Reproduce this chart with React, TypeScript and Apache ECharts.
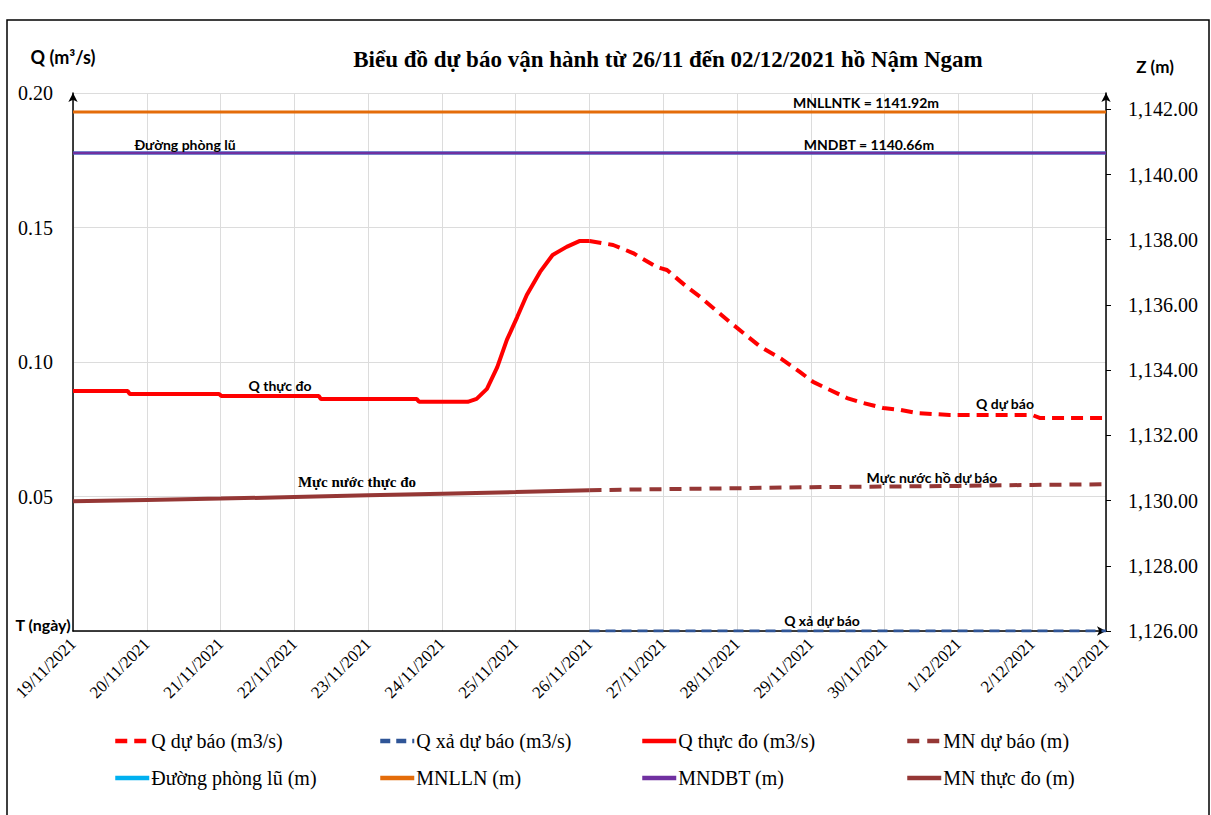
import React, { useEffect, useRef } from "react";
import * as echarts from "echarts";

const dates = [
  "19/11/2021", "20/11/2021", "21/11/2021", "22/11/2021", "23/11/2021",
  "24/11/2021", "25/11/2021", "26/11/2021", "27/11/2021", "28/11/2021",
  "29/11/2021", "30/11/2021", "1/12/2021", "2/12/2021", "3/12/2021",
];

// time in days since 19/11/2021 00:00
const qObsTime = [0, 0.74, 0.77, 1.98, 2.01, 3.33, 3.36, 4.66, 4.69, 5.35, 5.47, 5.61, 5.75, 5.88, 6.02, 6.15, 6.33, 6.5, 6.69, 6.87, 7.0];
const qObs = [0.0892, 0.0892, 0.0881, 0.0881, 0.0874, 0.0874, 0.0862, 0.0862, 0.0852, 0.0852, 0.0863, 0.09, 0.0981, 0.1082, 0.1167, 0.1249, 0.1335, 0.1398, 0.1428, 0.145, 0.145];

const qFcTime = [7.0, 7.32, 7.59, 7.91, 8.05, 8.32, 8.5, 8.9, 9.31, 9.6, 9.85, 10.03, 10.26, 10.49, 10.7, 10.98, 11.21, 11.44, 11.88, 13.0, 13.1, 14.0];
const qFc = [0.145, 0.1435, 0.1405, 0.1353, 0.1342, 0.1279, 0.1242, 0.1149, 0.1058, 0.1012, 0.0963, 0.0926, 0.0896, 0.0866, 0.0848, 0.0829, 0.0822, 0.081, 0.0803, 0.0803, 0.0792, 0.0792];

const qOutTime = [7, 14];
const qOut = [0, 0];

const mnObsTime = [0, 1, 2, 3, 4, 5, 6, 7];
const mnObs = [1129.98, 1130.02, 1130.06, 1130.11, 1130.16, 1130.21, 1130.26, 1130.32];

const mnFcTime = [7, 8, 9, 10, 11, 12, 13, 14];
const mnFc = [1130.32, 1130.35, 1130.38, 1130.41, 1130.43, 1130.45, 1130.48, 1130.5];

const levelTime = [0, 14];
const mnlln = [1141.92, 1141.92];
const mndbt = [1140.66, 1140.66];
const floodLine = [1140.66, 1140.66];

const pairs = (t: number[], v: number[]) => t.map((x, i) => [x, v[i]]);

const SERIF = "'Liberation Serif', 'Times New Roman', serif";
const SANS = "Lato, 'Open Sans', 'Liberation Sans', sans-serif";

export default function App() {
  const ref = useRef<HTMLDivElement>(null);
  useEffect(() => {
    if (!ref.current) return;
    const chart = echarts.init(ref.current, null, { renderer: "svg" });
    const line = (name: string, data: any[], color: string, width: number, type: any, yAxisIndex: number) => ({
      name,
      type: "line",
      data,
      yAxisIndex,
      showSymbol: false,
      symbol: "none",
      lineStyle: { color, width, type },
      itemStyle: { color },
      emphasis: { disabled: true },
    });
    const legendBase = {
      orient: "vertical",
      top: 731,
      padding: 0,
      itemWidth: 34,
      itemHeight: 12,
      itemGap: 17,
      itemStyle: { opacity: 0 },
      lineStyle: { width: 4.5 },
      textStyle: { fontFamily: SERIF, fontSize: 20, color: "#000", padding: [0, 0, 0, -3] },
      selectedMode: false,
    };
    const t = (text: string, x: number, y: number, font: string) => ({
      type: "text",
      style: { text, x, y, textAlign: "center", textVerticalAlign: "middle", font, fill: "#000" },
      z: 100,
    });
    chart.setOption({
      animation: false,
      grid: { left: 73, right: 105, top: 93, bottom: 184, containLabel: false },
      xAxis: {
        type: "value",
        min: 0,
        max: 14,
        interval: 1,
        axisLine: { show: true, lineStyle: { color: "#000", width: 1.5 }, symbol: ["none", "arrow"], symbolSize: [7, 9] },
        axisTick: { show: false },
        splitLine: { show: true, lineStyle: { color: "#dcdcdc", width: 1 } },
        axisLabel: {
          rotate: 45,
          margin: 10,
          fontFamily: SERIF,
          fontSize: 17,
          color: "#000",
          formatter: (v: number) => dates[Math.round(v)] ?? "",
        },
      },
      yAxis: [
        {
          type: "value",
          min: 0,
          max: 0.2,
          interval: 0.05,
          position: "left",
          axisLine: { show: true, lineStyle: { color: "#000", width: 1.5 }, symbol: ["none", "arrow"], symbolSize: [7, 9] },
          axisTick: { show: false },
          splitLine: { show: true, lineStyle: { color: "#dcdcdc", width: 1 } },
          axisLabel: {
            margin: 20,
            fontFamily: SERIF,
            fontSize: 20,
            color: "#000",
            formatter: (v: number) => (v < 1e-9 ? "" : v.toFixed(2)),
          },
        },
        {
          type: "value",
          min: 1126,
          max: 1142.5,
          interval: 2,
          position: "right",
          axisLine: { show: true, lineStyle: { color: "#000", width: 1.5 }, symbol: ["none", "arrow"], symbolSize: [7, 9] },
          axisTick: { show: true, inside: false, length: 5, lineStyle: { color: "#000" } },
          splitLine: { show: false },
          axisLabel: {
            margin: 22,
            fontFamily: SERIF,
            fontSize: 20,
            color: "#000",
            showMaxLabel: false,
            formatter: (v: number) =>
              Math.abs(v % 2) > 1e-6 ? "" : v.toLocaleString("en-US", { minimumFractionDigits: 2, maximumFractionDigits: 2 }),
          },
        },
      ],
      legend: [
        { ...legendBase, left: 113, data: ["Q dự báo (m3/s)", "Đường phòng lũ (m)"] },
        { ...legendBase, left: 378, data: ["Q xả dự báo (m3/s)", "MNLLN (m)"] },
        { ...legendBase, left: 640, data: ["Q thực đo (m3/s)", "MNDBT (m)"] },
        { ...legendBase, left: 905, data: ["MN dự báo (m)", "MN thực đo (m)"] },
      ],
      series: [
        line("Q dự báo (m3/s)", pairs(qFcTime, qFc), "#FF0000", 4, [12, 7], 0),
        line("Q xả dự báo (m3/s)", pairs(qOutTime, qOut), "#2F5597", 3, [10, 6], 0),
        line("Q thực đo (m3/s)", pairs(qObsTime, qObs), "#FF0000", 4, "solid", 0),
        line("MN dự báo (m)", pairs(mnFcTime, mnFc), "#953735", 4, [12, 8], 1),
        line("Đường phòng lũ (m)", pairs(levelTime, floodLine), "#00B0F0", 3, "solid", 1),
        line("MNLLN (m)", pairs(levelTime, mnlln), "#E46C0A", 3, "solid", 1),
        line("MNDBT (m)", pairs(levelTime, mndbt), "#7030A0", 3, "solid", 1),
        line("MN thực đo (m)", pairs(mnObsTime, mnObs), "#953735", 4, "solid", 1),
      ],
      graphic: [
        { type: "rect", shape: { x: 7, y: 20, width: 1202, height: 820 }, style: { fill: "none", stroke: "#000", lineWidth: 1.5 }, z: 0 },
        t("Biểu đồ dự báo vận hành từ 26/11 đến 02/12/2021 hồ Nậm Ngam", 668, 59, `bold 23px ${SERIF}`),
        t("Q (m³/s)", 63, 57, `bold 18px ${SANS}`),
        t("Z (m)", 1155, 66, `bold 17px ${SANS}`),
        t("T (ngày)", 43, 624, `bold 16px ${SANS}`),
        t("MNLLNTK = 1141.92m", 866, 102, `bold 14px ${SANS}`),
        t("MNDBT = 1140.66m", 869, 144, `bold 14px ${SANS}`),
        t("Đường phòng lũ", 185, 144, `bold 14px ${SANS}`),
        t("Q thực đo", 280, 385, `bold 14px ${SANS}`),
        t("Q dự báo", 1005, 403, `bold 14px ${SANS}`),
        t("Mực nước hồ dự báo", 932, 477, `bold 14px ${SANS}`),
        t("Mực nước thực đo", 357, 482, `bold 15px ${SERIF}`),
        t("Q xả dự báo", 822, 620, `bold 14px ${SANS}`),
      ],
    });
    return () => chart.dispose();
  }, []);
  return <div ref={ref} style={{ position: "absolute", left: 0, top: 0, width: 1211, height: 815, background: "#fff" }} />;
}
